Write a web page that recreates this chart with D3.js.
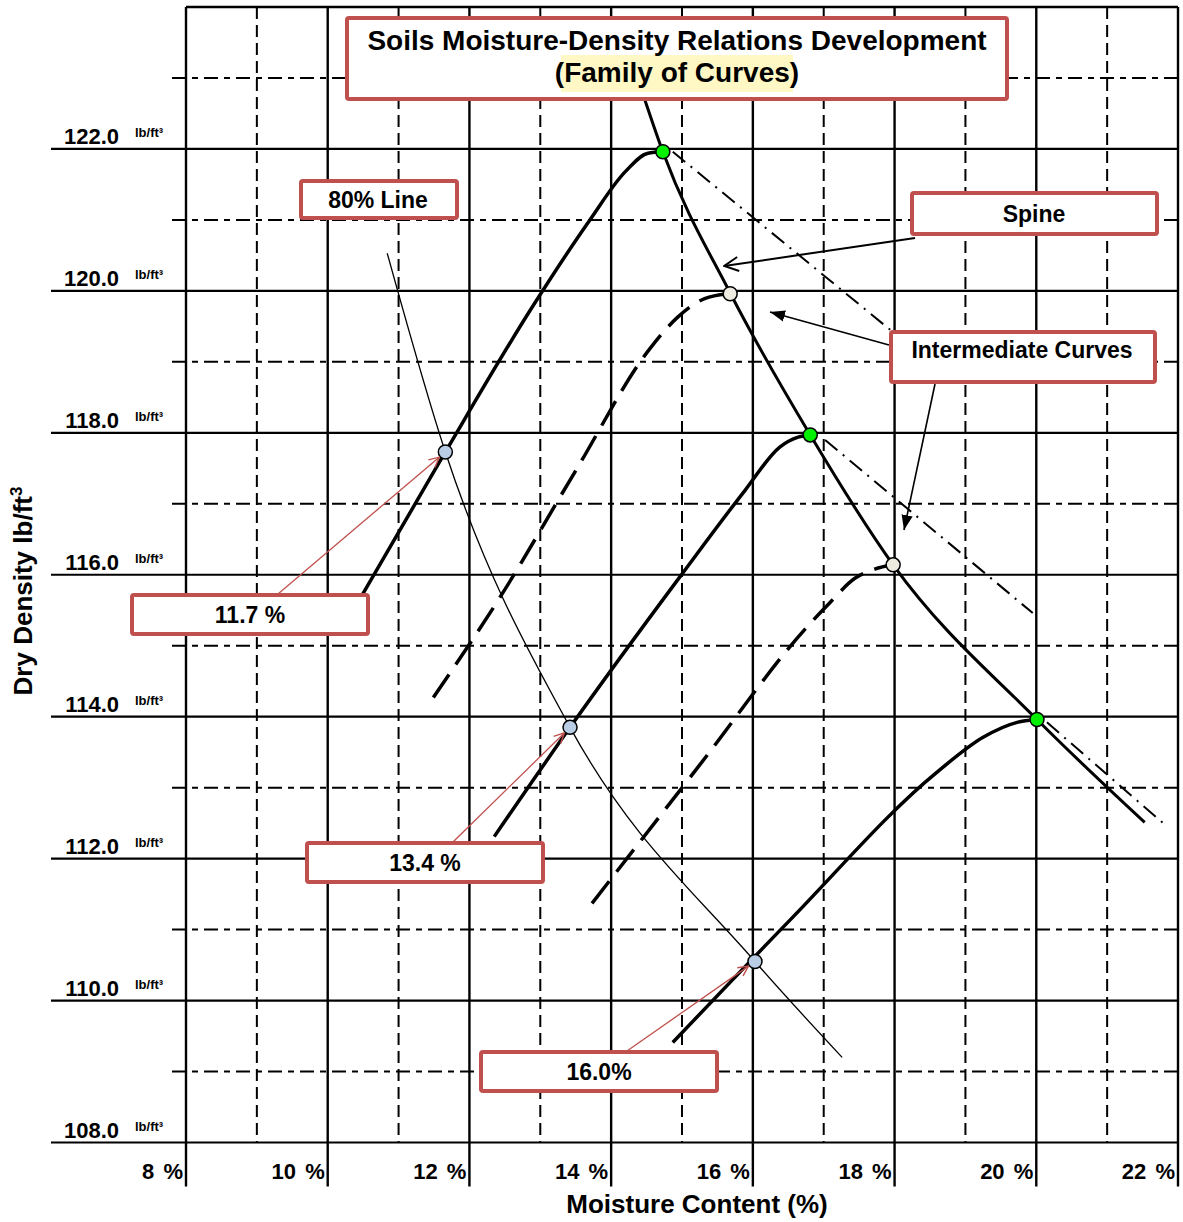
<!DOCTYPE html>
<html>
<head>
<meta charset="utf-8">
<script src="https://cdn.jsdelivr.net/npm/d3@7"></script>
<style>
  body { margin: 0; background: #fff; }
  text { font-family: "Liberation Sans", Arial, sans-serif; font-weight: bold; fill: #000; }
</style>
</head>
<body>
<div id="chart"></div>
<script>
// axis ticks: moisture content (%) and dry density (lb/ft3)
var moistureTicks = [8, 10, 12, 14, 16, 18, 20, 22];
var moistureMinor = [9, 11, 13, 15, 17, 19, 21];
var densityTicks = [108, 110, 112, 114, 116, 118, 120, 122];
var densityMinor = [109, 111, 113, 115, 117, 119, 121, 123];

// compaction curves, [moisture %, dry density lb/ft3]
var curve122 = [[10.46, 115.67], [11.66, 117.73], [12.86, 119.73], [13.70, 121.00], [14.20, 121.68], [14.52, 121.94], [14.73, 121.96]];
var curve120 = [[11.49, 114.27], [12.43, 115.68], [13.49, 117.45], [14.55, 119.19], [14.94, 119.63], [15.32, 119.89], [15.68, 119.96]];
var curve118 = [[12.35, 112.31], [13.42, 113.85], [14.97, 115.97], [15.89, 117.19], [16.38, 117.80], [16.64, 117.94], [16.81, 117.97]];
var curve116 = [[13.73, 111.37], [15.25, 113.32], [16.76, 115.26], [17.09, 115.61], [17.44, 115.95], [17.72, 116.08], [17.98, 116.14]];
var curve114 = [[14.87, 109.41], [16.52, 111.13], [18.60, 113.22], [19.25, 113.71], [19.73, 113.92], [20.01, 113.96]];

// spine through the peaks
var spine = [[14.42, 122.86], [14.73, 121.96], [15.68, 119.97], [16.81, 117.97], [17.98, 116.14], [20.01, 113.96], [21.53, 112.51]];

// wet-side extensions (dash-dot)
var wetSide122 = [[14.87, 121.96], [17.94, 119.45]];
var wetSide118 = [[17.02, 117.90], [19.95, 115.46]];
var wetSide114 = [[20.15, 113.92], [21.79, 112.50]];

// 80% line
var line80 = [[10.84, 120.53], [11.66, 117.73], [13.42, 113.85], [16.03, 110.55], [17.26, 109.20]];

// marked points
var peakPoints = [[14.73, 121.96], [16.81, 117.97], [20.01, 113.96]];
var intermediatePeaks = [[15.68, 119.96], [17.98, 116.14]];
var crossPoints = [[11.66, 117.73], [13.42, 113.85], [16.03, 110.55]];
var crossLabels = ["11.7 %", "13.4 %", "16.0%"];

var width = 1183, height = 1222;

var x = d3.scaleLinear().domain([8, 22]).range([186, 1178]);
var y = d3.scaleLinear().domain([108, 124]).range([1142.5, 7]);

var svg = d3.select('#chart')
    .append('svg')
    .attr('width', width)
    .attr('height', height);

var red = '#c0504d';

// arrow heads
var defs = svg.append('defs');
function openHead(id, color, size) {
    defs.append('marker')
        .attr('id', id)
        .attr('viewBox', '0 0 12 12')
        .attr('markerUnits', 'userSpaceOnUse')
        .attr('markerWidth', size).attr('markerHeight', size)
        .attr('refX', 11).attr('refY', 6)
        .attr('orient', 'auto')
        .append('path')
        .attr('d', 'M1,1 L11,6 L1,11')
        .attr('fill', 'none')
        .attr('stroke', color)
        .attr('stroke-width', 1.4);
}
openHead('redHead', red, 12);
openHead('blackHead', '#000', 17);
defs.append('marker')
    .attr('id', 'solidHead')
    .attr('viewBox', '0 0 12 12')
    .attr('markerUnits', 'userSpaceOnUse')
    .attr('markerWidth', 15).attr('markerHeight', 15)
    .attr('refX', 12).attr('refY', 6)
    .attr('orient', 'auto')
    .append('path')
    .attr('d', 'M0,1.5 L12,6 L0,10.5 Z')
    .attr('fill', '#000');

// grid
var grid = svg.append('g');
grid.selectAll('.vmajor').data(moistureTicks).enter()
    .append('line')
    .attr('x1', d => x(d)).attr('x2', d => x(d))
    .attr('y1', y(124)).attr('y2', y(108) + 44)
    .attr('stroke', '#000').attr('stroke-width', 2.4);
grid.selectAll('.vminor').data(moistureMinor).enter()
    .append('line')
    .attr('x1', d => x(d)).attr('x2', d => x(d))
    .attr('y1', y(124)).attr('y2', y(108))
    .attr('stroke', '#000').attr('stroke-width', 2)
    .attr('stroke-dasharray', '12,6');
grid.selectAll('.hmajor').data(densityTicks).enter()
    .append('line')
    .attr('x1', 51).attr('x2', x(22))
    .attr('y1', d => y(d)).attr('y2', d => y(d))
    .attr('stroke', '#000').attr('stroke-width', 2.2);
grid.selectAll('.hminor').data(densityMinor).enter()
    .append('line')
    .attr('x1', 172).attr('x2', x(22))
    .attr('y1', d => y(d)).attr('y2', d => y(d))
    .attr('stroke', '#000').attr('stroke-width', 2)
    .attr('stroke-dasharray', '14,6,6,6');
grid.append('line')
    .attr('x1', x(8)).attr('x2', x(22))
    .attr('y1', y(124)).attr('y2', y(124))
    .attr('stroke', '#000').attr('stroke-width', 2.4);

// tick labels
svg.selectAll('.xlab').data(moistureTicks).enter()
    .append('text')
    .attr('x', d => x(d) - 3).attr('y', 1179)
    .attr('text-anchor', 'end')
    .attr('font-size', 22)
    .attr('word-spacing', 3)
    .text(d => d + ' %');
svg.selectAll('.ylab').data(densityTicks).enter()
    .append('text')
    .attr('x', 119).attr('y', d => y(d) - 5)
    .attr('text-anchor', 'end')
    .attr('font-size', 22)
    .text(d => d.toFixed(1));
svg.selectAll('.yunit').data(densityTicks).enter()
    .append('text')
    .attr('x', 135).attr('y', d => y(d) - 12)
    .attr('font-size', 13)
    .text('lb/ft\u00b3');

// axis titles
svg.append('text')
    .attr('x', 697).attr('y', 1213)
    .attr('text-anchor', 'middle')
    .attr('font-size', 26)
    .text('Moisture Content (%)');
var yt = svg.append('text')
    .attr('transform', 'translate(32,591) rotate(-90)')
    .attr('text-anchor', 'middle')
    .attr('font-size', 26);
yt.append('tspan').text('Dry Density lb/ft');
yt.append('tspan').attr('font-size', 17).attr('dy', -10).text('3');

// curves
var line = d3.line()
    .x(d => x(d[0]))
    .y(d => y(d[1]))
    .curve(d3.curveMonotoneX);

function drawCurve(data, w, dash) {
    svg.append('path')
        .datum(data)
        .attr('d', line)
        .attr('fill', 'none')
        .attr('stroke', '#000')
        .attr('stroke-width', w)
        .attr('stroke-linecap', 'butt')
        .attr('stroke-dasharray', dash || null);
}

drawCurve(line80, 1.3);
drawCurve(wetSide122, 2, '16,7,2,7');
drawCurve(wetSide118, 2, '16,7,2,7');
drawCurve(wetSide114, 2, '16,7,2,7');
drawCurve(curve122, 3.5);
drawCurve(curve118, 3.5);
drawCurve(curve114, 3.5);
drawCurve(curve120, 3.5, '28,12');
drawCurve(curve116, 3.5, '28,12');
drawCurve(spine, 3);

// points
function drawDots(data, fill) {
    svg.selectAll(null).data(data).enter()
        .append('circle')
        .attr('cx', d => x(d[0])).attr('cy', d => y(d[1]))
        .attr('r', 7)
        .attr('fill', fill)
        .attr('stroke', '#000')
        .attr('stroke-width', 1.5);
}
drawDots(crossPoints, '#b9cde5');
drawDots(intermediatePeaks, '#eeece1');
drawDots(peakPoints, '#00f000');

// annotation boxes
function box(bx, by, bw, bh) {
    svg.append('rect')
        .attr('x', bx).attr('y', by)
        .attr('width', bw).attr('height', bh)
        .attr('rx', 2)
        .attr('fill', '#fff')
        .attr('stroke', red)
        .attr('stroke-width', 4);
}
function label(tx, ty, str) {
    svg.append('text')
        .attr('x', tx).attr('y', ty)
        .attr('text-anchor', 'middle')
        .attr('font-size', 23)
        .text(str);
}

// arrows from boxes to points
function arrow(x1, y1, x2, y2, color, head, w, back) {
    var dx = x2 - x1, dy = y2 - y1, len = Math.sqrt(dx * dx + dy * dy);
    svg.append('line')
        .attr('x1', x1).attr('y1', y1)
        .attr('x2', x2 - dx / len * back).attr('y2', y2 - dy / len * back)
        .attr('stroke', color)
        .attr('stroke-width', w)
        .attr('marker-end', 'url(#' + head + ')');
}

var crossBoxes = [[132, 595], [307, 843], [481, 1052]];
crossPoints.forEach(function (p, i) {
    var b = crossBoxes[i];
    arrow(b[0] + 146, b[1] - 1, x(p[0]), y(p[1]), red, 'redHead', 1.3, 8);
});

arrow(915, 238, x(spine[2][0]) - 6, y(spine[2][1]) - 27, '#000', 'blackHead', 2, 0);
arrow(889, 345, 770, 312, '#000', 'solidHead', 1.6, 0);
arrow(935, 384, 904, 530, '#000', 'solidHead', 1.6, 0);

// title
box(347, 18, 660, 81);
svg.append('rect')
    .attr('x', 561).attr('y', 55)
    .attr('width', 232).attr('height', 37)
    .attr('fill', '#fff8c4');
svg.append('text')
    .attr('x', 677).attr('y', 50)
    .attr('text-anchor', 'middle')
    .attr('font-size', 28)
    .text('Soils Moisture-Density Relations Development');
svg.append('text')
    .attr('x', 677).attr('y', 82)
    .attr('text-anchor', 'middle')
    .attr('font-size', 28)
    .text('(Family of Curves)');

box(301, 181, 156, 37);
label(378, 208, '80% Line');
box(912, 193, 245, 41);
label(1034, 222, 'Spine');
box(891, 332, 264, 50);
label(1022, 358, 'Intermediate Curves');

crossBoxes.forEach(function (b, i) {
    box(b[0], b[1], 236, 39);
    label(b[0] + 118, b[1] + 28, crossLabels[i]);
});
</script>
</body>
</html>
